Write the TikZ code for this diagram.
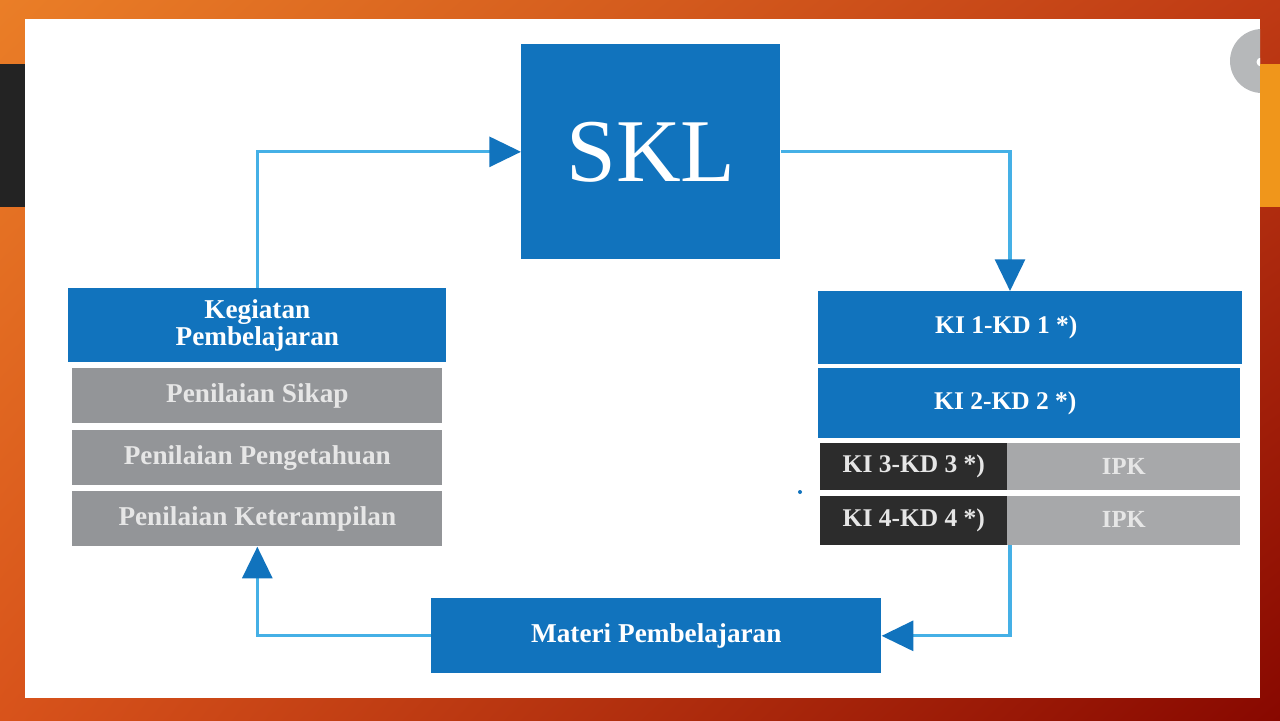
\documentclass[tikz,border=0pt]{standalone}
\usepackage{fontspec}
\setmainfont{Liberation Serif}
\usetikzlibrary{arrows.meta,shadings}
\definecolor{bgA}{HTML}{EA7E27}
\definecolor{bgB}{HTML}{BF3A14}
\definecolor{bgC}{HTML}{D8531B}
\definecolor{bgD}{HTML}{880800}
\definecolor{darkbar}{HTML}{232323}
\definecolor{orbar}{HTML}{F0961B}
\definecolor{bluebox}{HTML}{1173BD}
\definecolor{lineblue}{HTML}{45B0E6}
\definecolor{greybox}{HTML}{939598}
\definecolor{darkbox}{HTML}{2C2C2C}
\definecolor{lightbox}{HTML}{A7A8AA}
\definecolor{txtgrey}{HTML}{E6E6E6}
\definecolor{circgrey}{HTML}{B6B8BA}
\begin{document}
\begin{tikzpicture}[x=0.02cm,y=-0.02cm,
  box/.style={anchor=north west,inner sep=0pt,align=center,font=\fontsize{15.5}{16}\selectfont\bfseries},
  kifont/.style={font=\fontsize{14.5}{15}\selectfont\bfseries},
  bluecell/.style={box,fill=bluebox,text=white},
  greycell/.style={box,fill=greybox,text=txtgrey},
  darkcell/.style={box,kifont,fill=darkbox,text=txtgrey},
  lightcell/.style={box,font=\fontsize{14}{15}\selectfont\bfseries,fill=lightbox,text=txtgrey},
  conn/.style={draw=lineblue,line width=1.8pt,-{Triangle[length=18pt,width=17pt,color=bluebox]}}]
\useasboundingbox (0,0) rectangle (1280,720);
% background
\shade[upper left=bgA,upper right=bgB,lower left=bgC,lower right=bgD] (0,0) rectangle (1280,720);
\fill[darkbar] (0,64) rectangle (25,207);
\fill[white] (25,19) rectangle (1260,698);
\begin{scope}
\clip (25,19) rectangle (1260,698);
\fill[circgrey] (1262,61) circle[radius=0.64cm];
\fill[white] (1261,62) circle[radius=0.09cm];
\end{scope}
\fill[orbar] (1260,64) rectangle (1280,207);
% nodes
\node[bluecell,minimum width=5.18cm,minimum height=4.30cm,font=\fontsize{51}{52}\selectfont] (skl) at (521,44) {SKL};
\node[bluecell,minimum width=7.56cm,minimum height=1.48cm] (keg) at (68,288) {Kegiatan\\[-1pt]Pembelajaran};
\node[greycell,minimum width=7.40cm,minimum height=1.10cm] (sikap) at (72,368) {\raisebox{-1.5pt}{Penilaian Sikap}};
\node[greycell,minimum width=7.40cm,minimum height=1.10cm] (peng) at (72,430) {\raisebox{-1.5pt}{Penilaian Pengetahuan}};
\node[greycell,minimum width=7.40cm,minimum height=1.10cm] (ket) at (72,491) {\raisebox{-1.5pt}{Penilaian Keterampilan}};
\node[bluecell,kifont,minimum width=8.48cm,minimum height=1.46cm] (ki1) at (818,291) {\hspace*{-0.96cm}KI 1-KD 1 *)};
\node[bluecell,kifont,minimum width=8.44cm,minimum height=1.40cm] (ki2) at (818,368) {\hspace*{-0.96cm}KI 2-KD 2 *)};
\node[darkcell,minimum width=3.74cm,minimum height=0.94cm] (ki3) at (820,443) {\raisebox{-2pt}{KI 3-KD 3 *)}};
\node[lightcell,minimum width=4.66cm,minimum height=0.94cm] (ipk3) at (1007,443) {IPK};
\node[darkcell,minimum width=3.74cm,minimum height=0.98cm] (ki4) at (820,496) {\raisebox{-2pt}{KI 4-KD 4 *)}};
\node[lightcell,minimum width=4.66cm,minimum height=0.98cm] (ipk4) at (1007,496) {\raisebox{2pt}{IPK}};
\node[bluecell,minimum width=9.00cm,minimum height=1.50cm] (materi) at (431,598) {Materi Pembelajaran};
\fill[bluebox] (800,492) circle[radius=0.04cm];
% connectors
\coordinate (kitop) at (1010,291);
\coordinate (kibot) at (1010,545);
\draw[conn] (keg.north) |- (skl.west);
\draw[conn] (skl.east) -| (kitop);
\draw[conn] (kibot) |- (materi.east);
\draw[conn] (materi.west) -| (ket.south);
\end{tikzpicture}
\end{document}
